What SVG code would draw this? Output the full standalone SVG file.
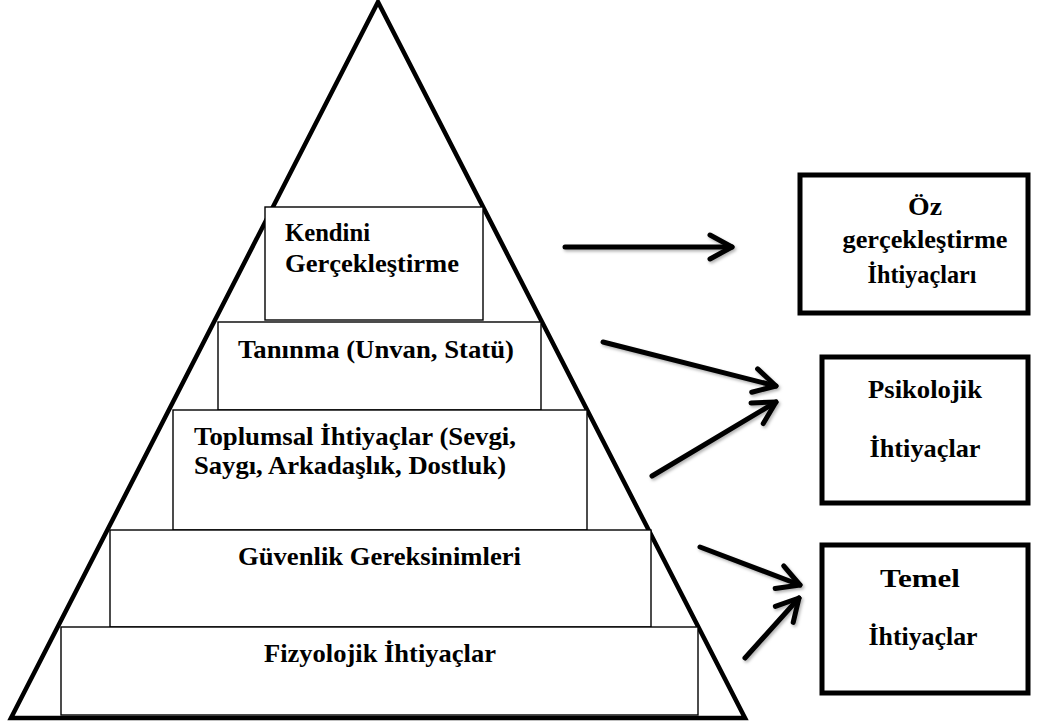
<svg xmlns="http://www.w3.org/2000/svg" width="1051" height="724" viewBox="0 0 1051 724">
  <defs>
    <style>
      text { font-family: "Liberation Serif", "Times New Roman", Times, serif; font-weight: 700; font-size: 26px; fill: #000; }
      .mid { text-anchor: middle; }
      .tier { fill: #fff; stroke: #000; stroke-width: 1.4; }
      .group { fill: #fff; stroke: #000; stroke-width: 5; }
      .conn { fill: none; stroke: #000; stroke-width: 5; stroke-linecap: round; marker-end: url(#head); }
    </style>
    <marker id="head" markerUnits="userSpaceOnUse" orient="auto" refX="0" refY="0" overflow="visible">
      <path d="M-22,-12 L0,0 L-22,12" fill="none" stroke="#000" stroke-width="5" stroke-linecap="round" stroke-linejoin="round"/>
    </marker>
    <filter id="soft" x="-20%" y="-20%" width="140%" height="140%">
      <feDropShadow dx="1.5" dy="2" stdDeviation="1.5" flood-color="#000" flood-opacity="0.3"/>
    </filter>
  </defs>

  <rect width="1051" height="724" fill="#fff"/>

  <!-- pyramid outline -->
  <g id="pyramid">
    <polygon points="378,2 11,718 745,718" fill="none" stroke="#000" stroke-width="4.5" stroke-linejoin="miter"/>
  </g>

  <!-- pyramid tiers, top to bottom -->
  <g id="tier-kendini">
    <rect class="tier" x="265" y="207" width="218" height="113"/>
    <text x="285" y="241" textLength="85" lengthAdjust="spacingAndGlyphs">Kendini</text>
    <text x="285" y="272" textLength="174" lengthAdjust="spacingAndGlyphs">Gerçekleştirme</text>
  </g>
  <g id="tier-taninma">
    <rect class="tier" x="218" y="322" width="323" height="88"/>
    <text x="238" y="358" textLength="276" lengthAdjust="spacingAndGlyphs">Tanınma (Unvan, Statü)</text>
  </g>
  <g id="tier-toplumsal">
    <rect class="tier" x="173" y="410" width="414" height="120"/>
    <text x="194" y="445" textLength="322" lengthAdjust="spacingAndGlyphs">Toplumsal İhtiyaçlar (Sevgi,</text>
    <text x="194" y="474" textLength="312" lengthAdjust="spacingAndGlyphs">Saygı, Arkadaşlık, Dostluk)</text>
  </g>
  <g id="tier-guvenlik">
    <rect class="tier" x="110" y="530" width="541" height="97"/>
    <text x="238" y="565" textLength="283" lengthAdjust="spacingAndGlyphs">Güvenlik Gereksinimleri</text>
  </g>
  <g id="tier-fizyolojik">
    <rect class="tier" x="61" y="627" width="637" height="88"/>
    <text x="264" y="662" textLength="232" lengthAdjust="spacingAndGlyphs">Fizyolojik İhtiyaçlar</text>
  </g>

  <!-- need categories -->
  <g id="cat-oz">
    <rect class="group" x="800" y="175" width="228" height="138"/>
    <text class="mid" x="925" y="215" textLength="34" lengthAdjust="spacingAndGlyphs">Öz</text>
    <text class="mid" x="925" y="248" textLength="165" lengthAdjust="spacingAndGlyphs">gerçekleştirme</text>
    <text class="mid" x="922" y="283" textLength="109" lengthAdjust="spacingAndGlyphs">İhtiyaçları</text>
  </g>
  <g id="cat-psikolojik">
    <rect class="group" x="822" y="357" width="206" height="146"/>
    <text class="mid" x="925" y="398" textLength="114" lengthAdjust="spacingAndGlyphs">Psikolojik</text>
    <text class="mid" x="925" y="457" textLength="111" lengthAdjust="spacingAndGlyphs">İhtiyaçlar</text>
  </g>
  <g id="cat-temel">
    <rect class="group" x="822" y="545" width="206" height="148"/>
    <text class="mid" x="920" y="587" textLength="80" lengthAdjust="spacingAndGlyphs">Temel</text>
    <text class="mid" x="923" y="645" textLength="109" lengthAdjust="spacingAndGlyphs">İhtiyaçlar</text>
  </g>

  <!-- connectors -->
  <g id="connectors" filter="url(#soft)">
    <line class="conn" x1="565" y1="247" x2="732" y2="247"/>
    <line class="conn" x1="603" y1="342" x2="776" y2="386"/>
    <line class="conn" x1="652" y1="476" x2="776" y2="402"/>
    <line class="conn" x1="700" y1="547" x2="800" y2="585"/>
    <line class="conn" x1="745" y1="658" x2="799" y2="598"/>
  </g>
</svg>
